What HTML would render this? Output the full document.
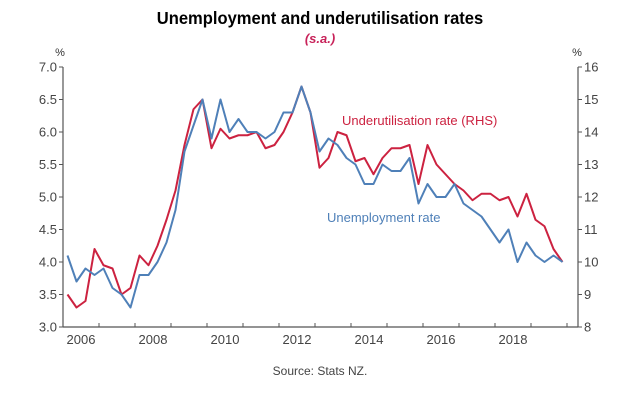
<!DOCTYPE html>
<html><head><meta charset="utf-8"><style>
body{margin:0;background:#fff;width:639px;height:400px;overflow:hidden;font-family:"Liberation Sans",sans-serif}
</style></head><body>
<svg width="639" height="400" font-family="Liberation Sans, sans-serif">
<text x="320" y="24" text-anchor="middle" font-size="18" font-weight="bold" fill="#000" transform="translate(320,0) scale(0.92,1) translate(-320,0)">Unemployment and underutilisation rates</text>
<text x="320" y="43" text-anchor="middle" font-size="13" font-style="italic" font-weight="bold" fill="#c8235a">(s.a.)</text>
<text x="60" y="56" text-anchor="middle" font-size="11" fill="#333">%</text>
<text x="577" y="56" text-anchor="middle" font-size="11" fill="#333">%</text>
<g id="axes"></g>
<g id="series"></g>
<text x="342" y="125" font-size="13" fill="#cc2240">Underutilisation rate (RHS)</text>
<text x="327" y="222" font-size="13" fill="#4f80b8">Unemployment rate</text>
<text x="320" y="375" text-anchor="middle" font-size="12" fill="#444">Source: Stats NZ.</text>
</svg>
<script>
const leftTicks=["3.0","3.5","4.0","4.5","5.0","5.5","6.0","6.5","7.0"];
const rightTicks=["8","9","10","11","12","13","14","15","16"];
const yearLabels=["2006","2008","2010","2012","2014","2016","2018"];
const unemployment=[4.1,3.7,3.9,3.8,3.9,3.6,3.5,3.3,3.8,3.8,4.0,4.3,4.8,5.7,6.1,6.5,5.9,6.5,6.0,6.2,6.0,6.0,5.9,6.0,6.3,6.3,6.7,6.3,5.7,5.9,5.8,5.6,5.5,5.2,5.2,5.5,5.4,5.4,5.6,4.9,5.2,5.0,5.0,5.2,4.9,4.8,4.7,4.5,4.3,4.5,4.0,4.3,4.1,4.0,4.1,4.0];
const underutilisation=[9.0,8.6,8.8,10.4,9.9,9.8,9.0,9.2,10.2,9.9,10.5,11.3,12.2,13.6,14.7,15.0,13.5,14.1,13.8,13.9,13.9,14.0,13.5,13.6,14.0,14.6,15.4,14.6,12.9,13.2,14.0,13.9,13.1,13.2,12.7,13.2,13.5,13.5,13.6,12.4,13.6,13.0,12.7,12.4,12.2,11.9,12.1,12.1,11.9,12.0,11.4,12.1,11.3,11.1,10.4,10.0];
const X0=63,X1=578,Y0=327,Y1=67,startYear=2006,pxYear=36;
const yL=v=>Y0-(v-3)/4*(Y0-Y1);
const yR=v=>Y0-(v-8)/8*(Y0-Y1);
const xQ=i=>X0+pxYear/4*(i+0.5);
const xYear=y=>X0+(y-startYear)*pxYear;
const NS="http://www.w3.org/2000/svg";
function mk(t,a,p){const e=document.createElementNS(NS,t);for(const k in a)e.setAttribute(k,a[k]);p.appendChild(e);return e;}
const ax=document.getElementById('axes');
let e=mk('line',{x1:X0,y1:Y1,x2:X0,y2:Y0,stroke:'#555','stroke-width':1.2},ax);


e=mk('line',{x1:X1,y1:Y1,x2:X1,y2:Y0,stroke:'#555','stroke-width':1.2},ax);


e=mk('line',{x1:X0,y1:Y0,x2:X1,y2:Y0,stroke:'#555','stroke-width':1.2},ax);


leftTicks.forEach(t=>{const y=yL(+t);mk('line',{x1:X0-4,y1:y,x2:X0,y2:y,stroke:'#555'},ax);
const tx=mk('text',{x:X0-6,y:y+4.5,'text-anchor':'end','font-size':13,fill:'#444'},ax);tx.textContent=t;

});
rightTicks.forEach(t=>{const y=yR(+t);mk('line',{x1:X1,y1:y,x2:X1+4,y2:y,stroke:'#555'},ax);
const tx=mk('text',{x:X1+6,y:y+4.5,'font-size':13,fill:'#444'},ax);tx.textContent=t;

});
for(let y=startYear;y<=2020;y++){const x=xYear(y);if(x>X1)break;mk('line',{x1:x,y1:Y0-4,x2:x,y2:Y0,stroke:'#555'},ax);}
yearLabels.forEach(l=>{const tx=mk('text',{x:xYear(+l)+pxYear/2,y:Y0+17,'text-anchor':'middle','font-size':13,fill:'#444'},ax);tx.textContent=l;

});
const sg=document.getElementById('series');
let p=mk('polyline',{points:underutilisation.map((v,i)=>xQ(i)+','+yR(v)).join(' '),fill:'none',stroke:'#cc2240','stroke-width':2,'stroke-linejoin':'round'},sg);


p=mk('polyline',{points:unemployment.map((v,i)=>xQ(i)+','+yL(v)).join(' '),fill:'none',stroke:'#4f80b8','stroke-width':2,'stroke-linejoin':'round'},sg);


</script>
</body></html>
